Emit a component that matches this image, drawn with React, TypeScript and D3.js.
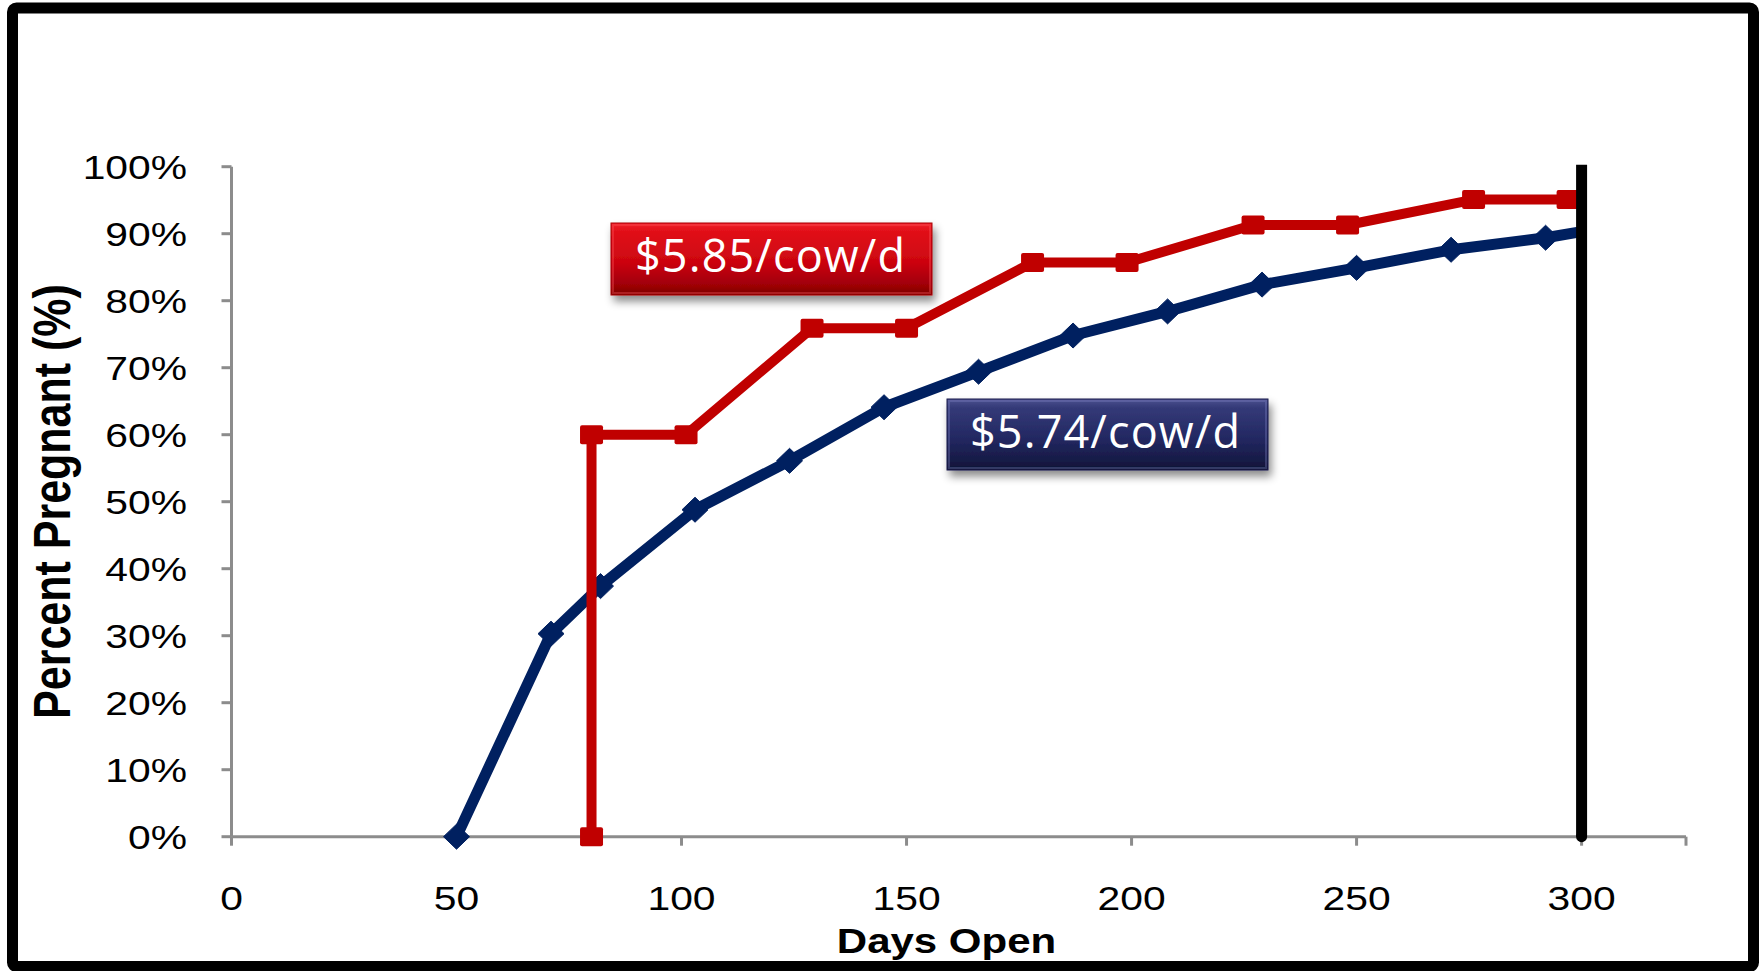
import React from 'react';
import * as d3 from 'd3';

// ---- data ----
const xTicks = [0, 50, 100, 150, 200, 250, 300];
const yTicks = [0, 10, 20, 30, 40, 50, 60, 70, 80, 90, 100];

const blueDays = [50, 71, 82, 103, 124, 145, 166, 187, 208, 229, 250, 271, 292, 300];
const bluePct = [0, 30.3, 37.4, 48.8, 56.1, 64.1, 69.4, 74.8, 78.4, 82.4, 84.9, 87.6, 89.4, 90.3];

const redDays = [80, 80, 101, 129, 150, 178, 199, 227, 248, 276, 297];
const redPct = [0, 60, 60, 75.9, 75.9, 85.7, 85.7, 91.3, 91.3, 95.1, 95.1];

const cutoffDay = 300;
const xMax = 323.2;

const redLabel = '$5.85/cow/d';
const blueLabel = '$5.74/cow/d';
const xTitle = 'Days Open';
const yTitle = 'Percent Pregnant (%)';

const RED = '#c00000';
const NAVY = '#002060';
const AXIS = '#8c8c8c';
const SX = 1.2; // horizontal stretch of the original picture's text

export default function App() {
  const W = 1763;
  const H = 971;
  const x = d3.scaleLinear().domain([0, xMax]).range([231.5, 1686]);
  const y = d3.scaleLinear().domain([0, 100]).range([836.7, 166.7]);
  const line = d3
    .line<[number, number]>()
    .x((d) => x(d[0]))
    .y((d) => y(d[1]));

  const blue: [number, number][] = blueDays.map((d, i) => [d, bluePct[i]]);
  const red: [number, number][] = redDays.map((d, i) => [d, redPct[i]]);
  const axisFont = '"Liberation Sans", Arial, sans-serif';
  const x0 = x(0);
  const y0 = y(0);

  return (
    <svg
      width={W}
      height={H}
      style={{ position: 'absolute', left: 0, top: 0, display: 'block', background: '#fff' }}
    >
      <defs>
        <linearGradient id="redG" x1="0" y1="0" x2="0" y2="1">
          <stop offset="0" stopColor="#f0222a" />
          <stop offset="0.12" stopColor="#e10f18" />
          <stop offset="0.55" stopColor="#cc0510" />
          <stop offset="0.88" stopColor="#9c0006" />
          <stop offset="1" stopColor="#7a0004" />
        </linearGradient>
        <linearGradient id="blueG" x1="0" y1="0" x2="0" y2="1">
          <stop offset="0" stopColor="#4c5190" />
          <stop offset="0.12" stopColor="#343a78" />
          <stop offset="0.55" stopColor="#232862" />
          <stop offset="0.88" stopColor="#161a45" />
          <stop offset="1" stopColor="#0e1133" />
        </linearGradient>
        <filter id="shadow" x="-10%" y="-20%" width="125%" height="160%">
          <feDropShadow dx="3" dy="6" stdDeviation="4" floodColor="#000" floodOpacity="0.45" />
        </filter>
      </defs>

      {/* frame */}
      <rect x={12.5} y={8} width={1741} height={958.5} rx={4} fill="#fff" stroke="#000" strokeWidth={11} />

      {/* y axis */}
      <line x1={x0} x2={x0} y1={y(100)} y2={y0} stroke={AXIS} strokeWidth={3} />
      {yTicks.map((t) => (
        <g key={'yt' + t}>
          <line x1={x0 - 10} x2={x0} y1={y(t)} y2={y(t)} stroke={AXIS} strokeWidth={3} />
          <g transform={`translate(187,${y(t) + 12.2}) scale(${SX},1)`}>
            <text x={0} y={0} textAnchor="end" fontFamily={axisFont} fontSize={34} fill="#000">
              {t + '%'}
            </text>
          </g>
        </g>
      ))}

      {/* x axis */}
      <line x1={x0} x2={x(xMax)} y1={y0} y2={y0} stroke={AXIS} strokeWidth={3} />
      {[...xTicks, xMax].map((t) => (
        <line key={'xt' + t} x1={x(t)} x2={x(t)} y1={y0} y2={y0 + 9} stroke={AXIS} strokeWidth={3} />
      ))}
      {xTicks.map((t) => (
        <g key={'xl' + t} transform={`translate(${x(t)},910) scale(${SX},1)`}>
          <text x={0} y={0} textAnchor="middle" fontFamily={axisFont} fontSize={34} fill="#000">
            {t}
          </text>
        </g>
      ))}

      {/* axis titles */}
      <g transform={`translate(946.5,953) scale(${SX},1)`}>
        <text x={0} y={0} textAnchor="middle" fontFamily={axisFont} fontWeight="bold" fontSize={35} fill="#000">
          {xTitle}
        </text>
      </g>
      <g transform={`translate(70,501.5) scale(${SX},1) rotate(-90)`}>
        <text x={0} y={0} textAnchor="middle" fontFamily={axisFont} fontWeight="bold" fontSize={43} fill="#000">
          {yTitle}
        </text>
      </g>

      {/* blue series */}
      <path d={line(blue) || ''} fill="none" stroke={NAVY} strokeWidth={11} strokeLinejoin="round" />
      {blue.slice(0, -1).map((d, i) => (
        <path
          key={'bm' + i}
          transform={`translate(${x(d[0])},${y(d[1])})`}
          d="M0,-12.5L13,0L0,12.5L-13,0Z"
          fill={NAVY}
          stroke={NAVY}
          strokeWidth={1}
          strokeLinejoin="round"
        />
      ))}

      {/* red series */}
      <path d={line(red) || ''} fill="none" stroke={RED} strokeWidth={10} strokeLinejoin="round" />
      {red.map((d, i) => (
        <rect
          key={'rm' + i}
          x={x(d[0]) - 11.5}
          y={y(d[1]) - 9.5}
          width={23}
          height={19}
          rx={2}
          fill={RED}
        />
      ))}

      {/* cutoff line */}
      <line x1={x(cutoffDay)} x2={x(cutoffDay)} y1={y(100) - 2} y2={y0} stroke="#000" strokeWidth={11} />
      <circle cx={x(cutoffDay)} cy={y0} r={5.5} fill="#000" />

      {/* labels */}
      <g filter="url(#shadow)">
        <rect x={611} y={223} width={321} height={72} fill="url(#redG)" stroke="#a80008" strokeWidth={1} />
      </g>
      <rect x={613} y={225} width={317} height={68} fill="none" stroke="#ff5a5f" strokeOpacity={0.35} strokeWidth={2} />
      <text
        x={770}
        y={271.5}
        textAnchor="middle"
        fontFamily='"Open Sans", "Noto Sans", sans-serif'
        fontSize={45}
        fill="#fff"
        textLength={270}
        lengthAdjust="spacing"
      >
        {redLabel}
      </text>

      <g filter="url(#shadow)">
        <rect x={947} y={399} width={321} height={71} fill="url(#blueG)" stroke="#1a1d4a" strokeWidth={1} />
      </g>
      <rect x={949} y={401} width={317} height={67} fill="none" stroke="#8a90d0" strokeOpacity={0.3} strokeWidth={2} />
      <text
        x={1105}
        y={448}
        textAnchor="middle"
        fontFamily='"Open Sans", "Noto Sans", sans-serif'
        fontSize={45}
        fill="#fff"
        textLength={270}
        lengthAdjust="spacing"
      >
        {blueLabel}
      </text>
    </svg>
  );
}
